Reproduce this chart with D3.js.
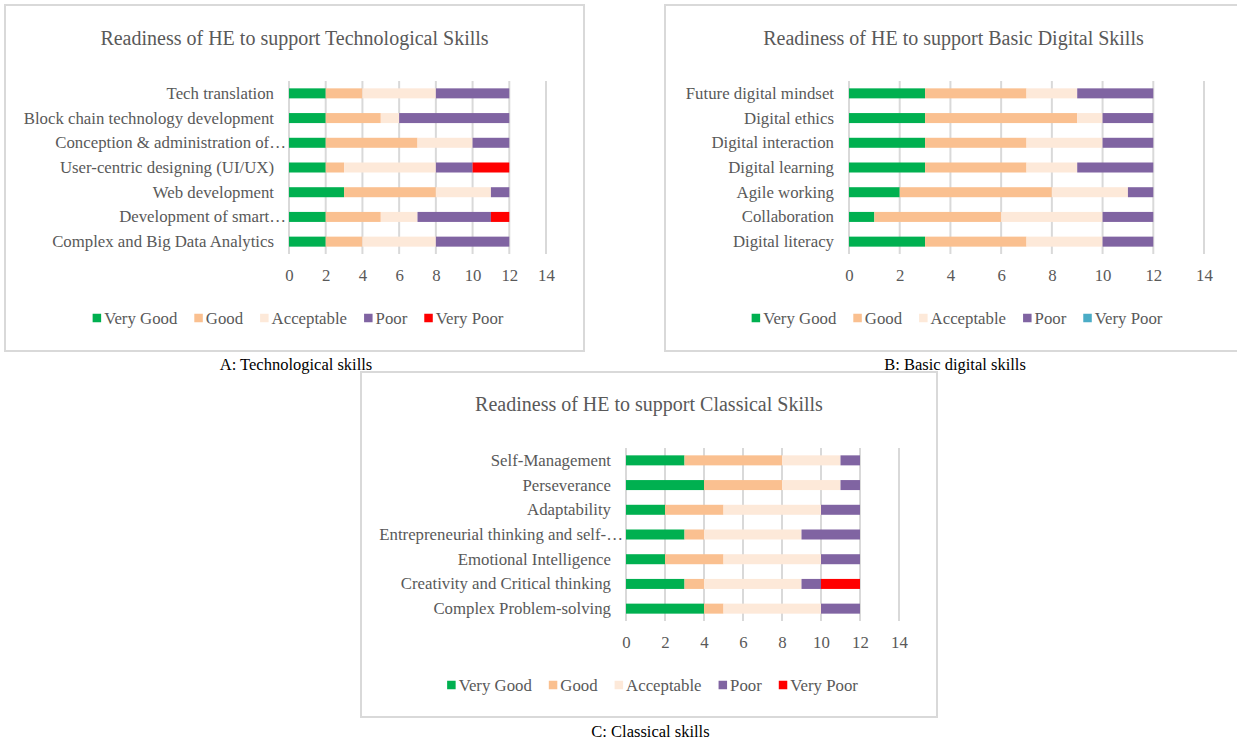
<!DOCTYPE html>
<html>
<head>
<meta charset="utf-8">
<script src="https://cdn.jsdelivr.net/npm/d3@7"></script>
<style>
  html, body { margin: 0; padding: 0; background: #fff; }
  svg { display: block; }
  text { font-family: "Liberation Serif", "DejaVu Serif", serif; }
</style>
</head>
<body>
<svg id="chart" width="1237" height="742"></svg>
<script>
// Rating levels shared by all three charts
const levels = ["Very Good", "Good", "Acceptable", "Poor", "Very Poor"];
const xTicks = [0, 2, 4, 6, 8, 10, 12, 14];

// A: Technological skills (top to bottom)
const techSkills = ["Tech translation", "Block chain technology development", "Conception & administration of…",
  "User-centric designing (UI/UX)", "Web development", "Development of smart…", "Complex and Big Data Analytics"];
const techVeryGood   = [2, 2, 2, 2, 3, 2, 2];
const techGood       = [2, 3, 5, 1, 5, 3, 2];
const techAcceptable = [4, 1, 3, 5, 3, 2, 4];
const techPoor       = [4, 6, 2, 2, 1, 4, 4];
const techVeryPoor   = [0, 0, 0, 2, 0, 1, 0];

// B: Basic digital skills
const digitalSkills = ["Future digital mindset", "Digital ethics", "Digital interaction", "Digital learning",
  "Agile working", "Collaboration", "Digital literacy"];
const digitalVeryGood   = [3, 3, 3, 3, 2, 1, 3];
const digitalGood       = [4, 6, 4, 4, 6, 5, 4];
const digitalAcceptable = [2, 1, 3, 2, 3, 4, 3];
const digitalPoor       = [3, 2, 2, 3, 1, 2, 2];
const digitalVeryPoor   = [0, 0, 0, 0, 0, 0, 0];

// C: Classical skills
const classicalSkills = ["Self-Management", "Perseverance", "Adaptability", "Entrepreneurial thinking and self-…",
  "Emotional Intelligence", "Creativity and Critical thinking", "Complex Problem-solving"];
const classicalVeryGood   = [3, 4, 2, 3, 2, 3, 4];
const classicalGood       = [5, 4, 3, 1, 3, 1, 1];
const classicalAcceptable = [3, 3, 5, 5, 5, 5, 5];
const classicalPoor       = [1, 1, 2, 3, 2, 1, 2];
const classicalVeryPoor   = [0, 0, 0, 0, 0, 2, 0];

const baseColors = ["#00b050", "#fac090", "#fde9d9", "#8064a2"];

const panels = [
  {
    title: "Readiness of HE to support Technological Skills",
    caption: "A: Technological skills",
    categories: techSkills,
    series: [techVeryGood, techGood, techAcceptable, techPoor, techVeryPoor],
    colors: baseColors.concat("#ff0000"),
    box: { x: 5, y: 5, w: 579, h: 346 },
    xRange: [289, 546], bandTop: 81, bandBottom: 254,
    titleY: 38, tickY: 275, legendY: 318, captionY: 364
  },
  {
    title: "Readiness of HE to support Basic Digital Skills",
    caption: "B: Basic digital skills",
    categories: digitalSkills,
    series: [digitalVeryGood, digitalGood, digitalAcceptable, digitalPoor, digitalVeryPoor],
    colors: baseColors.concat("#4bacc6"),
    box: { x: 665, y: 5, w: 577, h: 346 },
    xRange: [849, 1204], bandTop: 81, bandBottom: 254,
    titleY: 38, tickY: 275, legendY: 318, captionY: 364
  },
  {
    title: "Readiness of HE to support Classical Skills",
    caption: "C: Classical skills",
    categories: classicalSkills,
    series: [classicalVeryGood, classicalGood, classicalAcceptable, classicalPoor, classicalVeryPoor],
    colors: baseColors.concat("#ff0000"),
    box: { x: 361, y: 372, w: 576, h: 345 },
    xRange: [626, 899], bandTop: 448, bandBottom: 621,
    titleY: 404, tickY: 642, legendY: 685, captionY: 731
  }
];

const svg = d3.select("#chart");
const textColor = "#595959";
const gridColor = "#d9d9d9";

panels.forEach(p => {
  const g = svg.append("g");
  const cx = p.box.x + p.box.w / 2;

  // frame
  g.append("rect")
    .attr("x", p.box.x).attr("y", p.box.y)
    .attr("width", p.box.w).attr("height", p.box.h)
    .attr("fill", "#fff").attr("stroke", gridColor).attr("stroke-width", 2);

  // title
  g.append("text")
    .attr("x", cx).attr("y", p.titleY)
    .attr("text-anchor", "middle").attr("dominant-baseline", "central")
    .attr("fill", textColor).attr("font-size", 20)
    .text(p.title);

  const x = d3.scaleLinear().domain([0, 14]).range(p.xRange);
  const y = d3.scaleBand().domain(p.categories)
    .range([p.bandTop, p.bandBottom]).paddingInner(0.595).paddingOuter(0.2975);

  // vertical gridlines
  g.append("g").selectAll("line").data(xTicks).join("line")
    .attr("x1", d => x(d)).attr("x2", d => x(d))
    .attr("y1", p.bandTop).attr("y2", p.bandBottom)
    .attr("stroke", gridColor).attr("stroke-width", 2);

  // stacked bars
  const rows = p.categories.map((c, i) => {
    const r = { category: c };
    levels.forEach((l, k) => { r[l] = p.series[k][i]; });
    return r;
  });
  const stacked = d3.stack().keys(levels)(rows);
  g.append("g").selectAll("g").data(stacked).join("g")
    .attr("fill", (d, k) => p.colors[k])
    .selectAll("rect").data(d => d).join("rect")
    .attr("x", d => x(d[0]))
    .attr("width", d => x(d[1]) - x(d[0]))
    .attr("y", d => y(d.data.category))
    .attr("height", y.bandwidth());

  // category labels
  g.append("g").selectAll("text").data(p.categories).join("text")
    .attr("x", d => d.endsWith("…") ? x(0) - 3 : x(0) - 15)
    .attr("y", d => y(d) + y.bandwidth() / 2)
    .attr("text-anchor", "end").attr("dominant-baseline", "central")
    .attr("fill", textColor).attr("font-size", 16.8)
    .text(d => d);

  // x axis tick labels
  const axis = g.append("g")
    .attr("transform", `translate(0,${p.tickY})`)
    .call(d3.axisBottom(x).tickValues(xTicks).tickSize(0).tickPadding(0));
  axis.select(".domain").remove();
  axis.selectAll("text")
    .attr("dy", null).attr("y", 0)
    .attr("dominant-baseline", "central")
    .attr("fill", textColor).attr("font-size", 16.8)
    .attr("font-family", "Liberation Serif, serif");

  // legend
  const leg = g.append("g");
  const items = leg.selectAll("g").data(levels).join("g");
  items.append("rect")
    .attr("width", 8.5).attr("height", 8.5)
    .attr("y", p.legendY - 4.25)
    .attr("fill", (d, k) => p.colors[k]);
  items.append("text")
    .attr("x", 11.5).attr("y", p.legendY)
    .attr("dominant-baseline", "central")
    .attr("fill", textColor).attr("font-size", 16.8)
    .text(d => d);
  let offset = 0;
  items.each(function () {
    const w = d3.select(this).select("text").node().getComputedTextLength();
    d3.select(this).attr("data-off", offset);
    offset += 11.5 + w + 17;
  });
  const total = offset - 17;
  const start = cx + 3.5 - total / 2;
  items.attr("transform", function () {
    return `translate(${start + (+d3.select(this).attr("data-off"))},0)`;
  });

  // caption under the frame
  svg.append("text")
    .attr("x", cx + 1.5).attr("y", p.captionY)
    .attr("text-anchor", "middle").attr("dominant-baseline", "central")
    .attr("fill", "#000").attr("font-size", 16.5)
    .text(p.caption);
});
</script>
</body>
</html>
